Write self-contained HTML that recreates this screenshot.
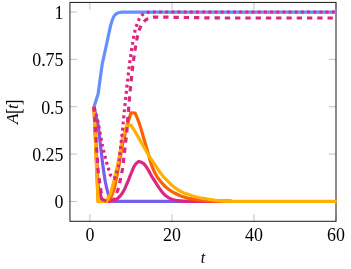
<!DOCTYPE html>
<html><head><meta charset="utf-8"><title>A[t]</title>
<style>
html,body{margin:0;padding:0;background:#fff;}
body{width:351px;height:269px;position:relative;overflow:hidden;font-family:"Liberation Serif",serif;color:#000;font-size:17.9px;}
.xt,.yt,.xl{will-change:transform;}
.xt{position:absolute;top:225px;width:60px;text-align:center;line-height:20px;height:20px;}
.yt{position:absolute;left:0;width:63.5px;text-align:right;line-height:20px;height:20px;}
.xl{position:absolute;left:172.7px;width:60px;top:248.1px;text-align:center;line-height:20px;font-style:italic;font-size:16px;}
.yl{position:absolute;left:-37px;top:102.4px;width:100px;height:20px;line-height:20px;text-align:center;transform:rotate(-90deg);transform-origin:50% 50%;white-space:nowrap;font-size:17.2px;}
.yl i{font-style:italic;}
.yl .t{margin:0 -0.4px 0 -0.2px;}
.yl .br{display:inline-block;transform:translateY(0.6px) scaleY(1.24);margin:0 -0.5px;line-height:20px;height:20px;vertical-align:baseline;}
</style></head><body>
<svg width="351" height="269" viewBox="0 0 351 269" style="position:absolute;left:0;top:0">
<path d="M89.90 221.30 V214.30 M89.90 2.45 V9.45 M171.94 221.30 V214.30 M171.94 2.45 V9.45 M253.98 221.30 V214.30 M253.98 2.45 V9.45 M336.02 221.30 V214.30 M336.02 2.45 V9.45 M69.95 201.47 H76.95 M336.00 201.47 H329.00 M69.95 154.09 H76.95 M336.00 154.09 H329.00 M69.95 106.72 H76.95 M336.00 106.72 H329.00 M69.95 59.34 H76.95 M336.00 59.34 H329.00 M69.95 11.97 H76.95 M336.00 11.97 H329.00" stroke="#808080" stroke-width="0.5" fill="none"/>
<rect x="69.95" y="2.45" width="266.05" height="218.85" fill="none" stroke="#242424" stroke-width="1.05"/>
<clipPath id="c"><rect x="69.95" y="2.45" width="266.85" height="218.85"/></clipPath>
<g clip-path="url(#c)" fill="none" stroke-width="3.2" stroke-linejoin="round" stroke-linecap="butt">
<path d="M94.00 106.75 L98.10 94.00 L102.21 64.00 L106.31 45.50 L110.41 26.30 L111.44 22.69 L112.46 19.52 L113.49 17.01 L114.51 15.40 L115.54 14.41 L116.56 13.62 L117.59 13.05 L118.61 12.70 L119.64 12.49 L120.67 12.32 L121.69 12.21 L122.72 12.15 L123.74 12.13 L124.77 12.11 L125.79 12.10 L126.82 12.10 L336.84 12.10" stroke="#648FFF"/>
<path d="M94.00 106.75 L98.10 125.00 L102.21 160.00 L103.23 168.06 L104.26 175.31 L105.28 181.54 L106.31 186.50 L107.33 190.66 L108.36 194.39 L109.38 197.30 L110.41 199.00 L111.44 199.89 L112.46 200.60 L113.49 201.08 L114.51 201.30 L115.54 201.37 L116.56 201.42 L117.59 201.46 L118.61 201.47 L231.42 201.47" stroke="#785EF0"/>
<path d="M94.00 106.75 L98.10 186.00 L102.21 201.10 L106.31 201.47 L107.33 201.46 L108.36 201.42 L109.38 201.37 L110.41 201.30 L111.44 201.19 L112.46 201.02 L113.49 200.79 L114.51 200.50 L115.54 200.03 L116.56 199.31 L117.59 198.44 L118.61 197.50 L119.64 196.49 L120.67 195.32 L121.69 193.99 L122.72 192.50 L123.74 190.72 L124.77 188.61 L125.79 186.33 L126.82 184.00 L127.84 181.59 L128.87 179.04 L129.89 176.46 L130.92 174.00 L131.95 171.49 L132.97 168.93 L134.00 166.66 L135.02 165.00 L136.05 163.77 L137.07 162.68 L138.10 161.90 L139.12 161.60 L140.15 161.75 L141.18 162.13 L142.20 162.67 L143.23 163.30 L144.25 164.19 L145.28 165.46 L146.30 166.95 L147.33 168.50 L148.35 170.17 L149.38 172.05 L150.40 173.98 L151.43 175.80 L152.46 177.48 L153.48 179.11 L154.51 180.71 L155.53 182.30 L156.56 183.92 L157.58 185.54 L158.61 187.11 L159.63 188.60 L160.66 190.02 L161.69 191.40 L162.71 192.68 L163.74 193.80 L164.76 194.79 L165.79 195.70 L166.81 196.51 L167.84 197.20 L168.86 197.80 L169.89 198.34 L170.91 198.81 L171.94 199.20 L172.97 199.54 L173.99 199.83 L175.02 200.09 L176.04 200.30 L177.07 200.48 L178.09 200.64 L179.12 200.78 L180.14 200.90 L181.17 201.01 L182.19 201.10 L183.22 201.19 L184.25 201.25 L185.27 201.30 L186.30 201.34 L187.32 201.37 L188.35 201.40 L189.37 201.42 L190.40 201.44 L191.42 201.46 L192.45 201.47 L231.42 201.47" stroke="#DC267F"/>
<path d="M94.00 106.75 L98.10 201.47 L102.21 201.47 L106.31 201.47 L110.41 199.00 L114.51 188.00 L118.61 167.00 L122.72 143.00 L126.82 126.50 L130.92 112.80 L135.02 113.00 L136.05 115.14 L137.07 117.52 L138.10 120.12 L139.12 122.90 L140.15 125.99 L141.18 129.41 L142.20 132.98 L143.23 136.50 L144.25 139.95 L145.28 143.41 L146.30 146.90 L147.33 150.40 L148.35 154.06 L149.38 157.84 L150.40 161.45 L151.43 164.60 L152.46 167.31 L153.48 169.78 L154.51 172.01 L155.53 174.00 L156.56 175.77 L157.58 177.36 L158.61 178.82 L159.63 180.20 L160.66 181.52 L161.69 182.75 L162.71 183.92 L163.74 185.00 L164.76 186.01 L165.79 186.97 L166.81 187.86 L167.84 188.70 L168.86 189.49 L169.89 190.24 L170.91 190.95 L171.94 191.60 L172.97 192.20 L173.99 192.76 L175.02 193.29 L176.04 193.80 L177.07 194.30 L178.09 194.78 L179.12 195.23 L180.14 195.65 L181.17 196.04 L182.19 196.40 L183.22 196.75 L184.25 197.07 L185.27 197.38 L186.30 197.67 L187.32 197.94 L188.35 198.20 L189.37 198.45 L190.40 198.68 L191.42 198.90 L192.45 199.10 L193.48 199.29 L194.50 199.46 L195.53 199.62 L196.55 199.77 L197.58 199.91 L198.60 200.04 L199.63 200.16 L200.65 200.27 L201.68 200.38 L202.71 200.48 L203.73 200.58 L204.76 200.67 L205.78 200.75 L206.81 200.83 L207.83 200.91 L208.86 200.97 L209.88 201.03 L210.91 201.08 L211.93 201.13 L212.96 201.17 L213.99 201.21 L215.01 201.24 L216.04 201.27 L217.06 201.30 L218.09 201.33 L219.11 201.37 L220.14 201.40 L221.16 201.42 L222.19 201.44 L223.22 201.45 L224.24 201.46 L225.27 201.47 L231.42 201.47" stroke="#FE6100"/>
<path d="M94.00 106.75 L98.10 201.47 L102.21 201.47 L106.31 201.47 L110.41 194.00 L114.51 179.00 L118.61 160.00 L122.72 136.50 L126.82 125.80 L130.92 125.20 L135.02 131.50 L136.05 133.27 L137.07 135.04 L138.10 136.82 L139.12 138.60 L140.15 140.39 L141.18 142.19 L142.20 144.00 L143.23 145.80 L144.25 147.61 L145.28 149.44 L146.30 151.24 L147.33 153.00 L148.35 154.71 L149.38 156.38 L150.40 158.01 L151.43 159.60 L152.46 161.14 L153.48 162.62 L154.51 164.10 L155.53 165.60 L156.56 167.16 L157.58 168.76 L158.61 170.32 L159.63 171.80 L160.66 173.19 L161.69 174.53 L162.71 175.80 L163.74 177.00 L164.76 178.12 L165.79 179.17 L166.81 180.19 L167.84 181.20 L168.86 182.23 L169.89 183.26 L170.91 184.26 L171.94 185.20 L172.97 186.09 L173.99 186.95 L175.02 187.75 L176.04 188.50 L177.07 189.18 L178.09 189.82 L179.12 190.42 L180.14 191.00 L181.17 191.57 L182.19 192.13 L183.22 192.65 L184.25 193.10 L185.27 193.46 L186.30 193.78 L187.32 194.08 L188.35 194.40 L189.37 194.77 L190.40 195.17 L191.42 195.55 L192.45 195.90 L193.48 196.20 L194.50 196.48 L195.53 196.74 L196.55 197.00 L197.58 197.25 L198.60 197.50 L199.63 197.74 L200.65 197.95 L201.68 198.14 L202.71 198.32 L203.73 198.48 L204.76 198.65 L205.78 198.82 L206.81 198.98 L207.83 199.14 L208.86 199.30 L209.88 199.47 L210.91 199.63 L211.93 199.80 L212.96 199.95 L213.99 200.10 L215.01 200.24 L216.04 200.37 L217.06 200.50 L218.09 200.62 L219.11 200.74 L220.14 200.85 L221.16 200.95 L222.19 201.04 L223.22 201.13 L224.24 201.21 L225.27 201.27 L226.29 201.32 L227.32 201.36 L228.34 201.40 L229.37 201.42 L230.39 201.44 L231.42 201.45 L232.44 201.47 L233.47 201.47 L336.84 201.47" stroke="#FFB000"/>
<path d="M94.00 106.75 L98.10 122.00 L102.21 145.00 L106.31 161.50 L110.41 175.00 L114.51 178.50 L118.61 166.00 L122.72 128.00 L123.74 117.20 L124.77 106.83 L125.79 96.92 L126.82 87.50 L127.84 78.39 L128.87 69.59 L129.89 61.37 L130.92 54.00 L131.95 47.24 L132.97 40.91 L134.00 35.31 L135.02 30.80 L136.05 27.14 L137.07 23.94 L138.10 21.27 L139.12 19.20 L140.15 17.56 L141.18 16.16 L142.20 15.03 L143.23 14.20 L144.25 13.58 L145.28 13.05 L146.30 12.65 L147.33 12.40 L148.35 12.25 L149.38 12.12 L150.40 12.03 L151.43 12.00 L336.84 12.00" stroke="#DC267F" stroke-dasharray="2.9 3.27" stroke-dashoffset="5.145"/>
<path d="M94.00 106.75 L98.10 171.50 L102.21 199.30 L106.31 201.20 L110.41 201.10 L114.51 199.20 L118.61 188.00 L122.72 168.00 L126.82 132.00 L127.84 118.18 L128.87 105.30 L129.89 93.53 L130.92 83.00 L131.95 73.47 L132.97 64.68 L134.00 56.81 L135.02 50.00 L136.05 43.88 L137.07 38.25 L138.10 33.49 L139.12 30.00 L140.15 27.52 L141.18 25.49 L142.20 23.84 L143.23 22.50 L144.25 21.35 L145.28 20.34 L146.30 19.52 L147.33 18.90 L148.35 18.43 L149.38 18.03 L150.40 17.72 L151.43 17.50 L152.46 17.33 L153.48 17.19 L154.51 17.09 L155.53 17.05 L156.56 17.05 L157.58 17.05 L158.61 17.06 L159.63 17.07 L160.66 17.07 L161.69 17.08 L162.71 17.09 L163.74 17.10 L164.76 17.11 L165.79 17.12 L166.81 17.14 L167.84 17.15 L168.86 17.17 L169.89 17.19 L170.91 17.21 L171.94 17.23 L172.97 17.26 L173.99 17.28 L175.02 17.30 L176.04 17.32 L177.07 17.34 L178.09 17.36 L179.12 17.38 L180.14 17.40 L181.17 17.42 L182.19 17.43 L183.22 17.45 L184.25 17.47 L185.27 17.48 L186.30 17.50 L187.32 17.51 L188.35 17.53 L189.37 17.54 L190.40 17.56 L191.42 17.57 L192.45 17.59 L193.48 17.60 L194.50 17.62 L195.53 17.63 L196.55 17.65 L197.58 17.67 L198.60 17.68 L199.63 17.70 L200.65 17.72 L201.68 17.74 L202.71 17.75 L203.73 17.77 L204.76 17.79 L205.78 17.81 L206.81 17.82 L207.83 17.84 L208.86 17.85 L209.88 17.87 L210.91 17.88 L211.93 17.89 L212.96 17.90 L213.99 17.91 L215.01 17.92 L216.04 17.93 L217.06 17.93 L218.09 17.94 L219.11 17.95 L220.14 17.96 L221.16 17.96 L222.19 17.97 L223.22 17.98 L224.24 17.98 L225.27 17.99 L226.29 17.99 L227.32 18.00 L228.34 18.00 L229.37 18.00 L336.84 18.00" stroke="#DC267F" stroke-dasharray="5.3 4.97" stroke-dashoffset="0.298"/>
</g>
</svg>
<div class="xt" style="left:59.90px">0</div>
<div class="xt" style="left:141.94px">20</div>
<div class="xt" style="left:223.98px">40</div>
<div class="xt" style="left:306.02px">60</div>
<div class="yt" style="top:192.47px">0</div>
<div class="yt" style="top:145.09px">0.25</div>
<div class="yt" style="top:97.72px">0.5</div>
<div class="yt" style="top:50.34px">0.75</div>
<div class="yt" style="top:2.97px">1</div>
<div class="xl">t</div>
<div class="yl"><i>A</i><span class="br">[</span><i class="t">t</i><span class="br">]</span></div>
</body></html>
